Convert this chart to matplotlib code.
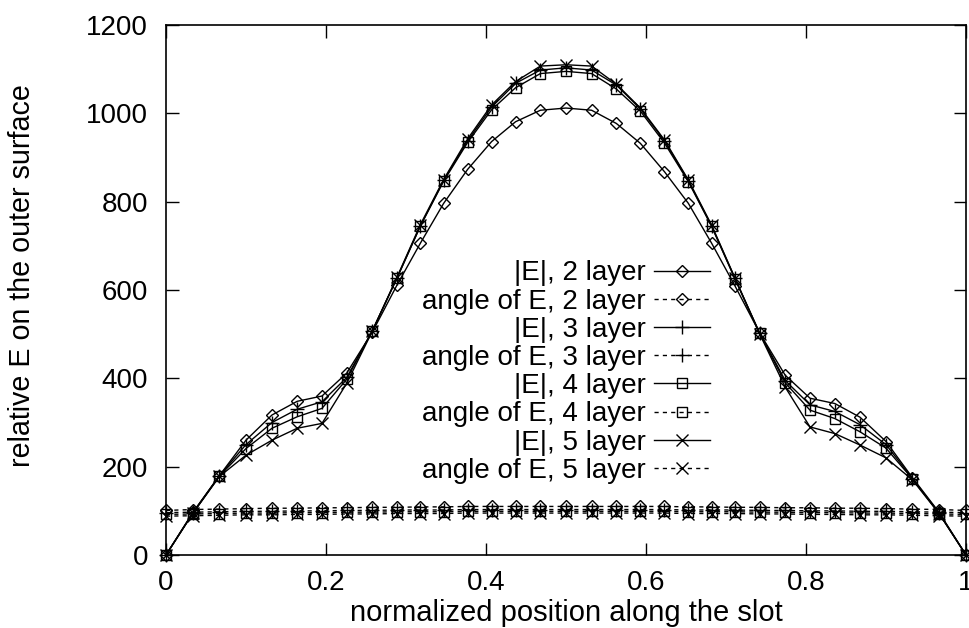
import matplotlib
matplotlib.use('Agg')
import matplotlib.pyplot as plt

plt.rcParams['font.family'] = ['Liberation Sans', 'DejaVu Sans']

# positions along the slot (nodes are a little denser near the middle)
xpos = [0, 0.0338, 0.0669, 0.1, 0.1325, 0.164, 0.195, 0.226, 0.258, 0.289, 0.318,
        0.347, 0.377, 0.407, 0.437, 0.468, 0.5, 0.532, 0.563, 0.593, 0.623, 0.653,
        0.682, 0.711, 0.742, 0.774, 0.805, 0.836, 0.8675, 0.9, 0.9331, 0.9662, 1.0]

# |E| for 2..5 layers
e2 = [0, 97, 180, 260, 317, 348, 360, 412, 505, 612, 706, 796, 873, 936, 981, 1007, 1012,
      1007, 977, 932, 868, 796, 706, 610, 503, 407, 355, 343, 312, 257, 175, 97, 0]
e3 = [0, 96, 180, 250, 300, 330, 347, 402, 508, 628, 745, 848, 938, 1014, 1068, 1098, 1103,
      1098, 1064, 1010, 938, 847, 745, 627, 503, 395, 340, 325, 295, 250, 173, 95, 0]
e4 = [0, 95, 179, 241, 287, 313, 332, 398, 508, 628, 745, 846, 934, 1008, 1058, 1090, 1095,
      1090, 1055, 1005, 933, 845, 744, 626, 502, 390, 328, 309, 279, 242, 172, 95, 0]
e5 = [0, 95, 178, 226, 260, 287, 298, 389, 507, 630, 748, 850, 942, 1019, 1072, 1107, 1110,
      1107, 1066, 1012, 940, 849, 747, 628, 501, 380, 290, 275, 249, 220, 170, 94, 0]

# angle of E for 2..5 layers
a2 = [101, 103, 104, 105, 106, 106, 107, 107, 108, 108, 109, 109, 110, 110, 110, 110, 110,
      110, 110, 110, 110, 109, 109, 108, 108, 107, 107, 106, 106, 105, 104, 103, 101]
a3 = [96, 97, 98, 99, 99, 100, 100, 101, 101, 102, 102, 102, 103, 103, 103, 103, 103,
      103, 103, 103, 103, 102, 102, 102, 101, 101, 100, 100, 99, 99, 98, 97, 96]
a4 = [92, 93, 94, 95, 95, 96, 96, 97, 97, 98, 98, 98, 99, 99, 99, 99, 99,
      99, 99, 99, 99, 98, 98, 98, 97, 97, 96, 96, 95, 95, 94, 93, 92]
a5 = [88, 89, 90, 91, 91, 92, 92, 93, 93, 94, 94, 94, 95, 95, 95, 95, 95,
      95, 95, 95, 95, 94, 94, 94, 93, 93, 92, 92, 91, 91, 90, 89, 88]

layers = ['2', '3', '4', '5']
markers = ['D', '+', 's', 'x']
msizes = [6.5, 10, 7.5, 8.5]
mags = [e2, e3, e4, e5]
angs = [a2, a3, a4, a5]

fig = plt.figure(figsize=(9.7, 6.28), dpi=100)
ax = fig.add_axes([0.1711, 0.1162, 0.8248, 0.844])

dash = (0, (3, 3))
for lay, m, ms, ev, av in zip(layers, markers, msizes, mags, angs):
    ax.plot(xpos, ev, color='black', lw=1.0, marker=m, ms=ms, mfc='none', mec='black',
            mew=1.0, clip_on=False, zorder=3, label='|E|, %s layer' % lay)
    ax.plot(xpos, av, color='black', lw=1.0, ls=dash, marker=m, ms=ms, mfc='none',
            mec='black', mew=1.0, clip_on=False, zorder=2, label='angle of E, %s layer' % lay)

ax.set_xlim(0, 1)
ax.set_ylim(0, 1200)
ax.set_xticks([0, 0.2, 0.4, 0.6, 0.8, 1])
ax.set_xticklabels(['0', '0.2', '0.4', '0.6', '0.8', '1'])
ax.set_yticks(range(0, 1201, 200))
ax.tick_params(direction='in', length=9, width=1, top=True, right=True, labelsize=20)
ax.tick_params(axis='x', pad=11)
ax.tick_params(axis='y', pad=13)
for s in ax.spines.values():
    s.set_linewidth(1.2)

ax.set_xlabel('normalized position along the slot', fontsize=21, labelpad=2)
ax.set_ylabel('relative E on the outer surface', fontsize=20.6)
ax.yaxis.set_label_coords(-0.163, 0.527)

ax.legend(loc='upper right', bbox_to_anchor=(0.68, 0.556), frameon=False, markerfirst=False,
          fontsize=20, labelspacing=0.08, handlelength=2.0, handletextpad=0.3,
          borderpad=0, borderaxespad=0)

fig.savefig('out.png', dpi=100)
